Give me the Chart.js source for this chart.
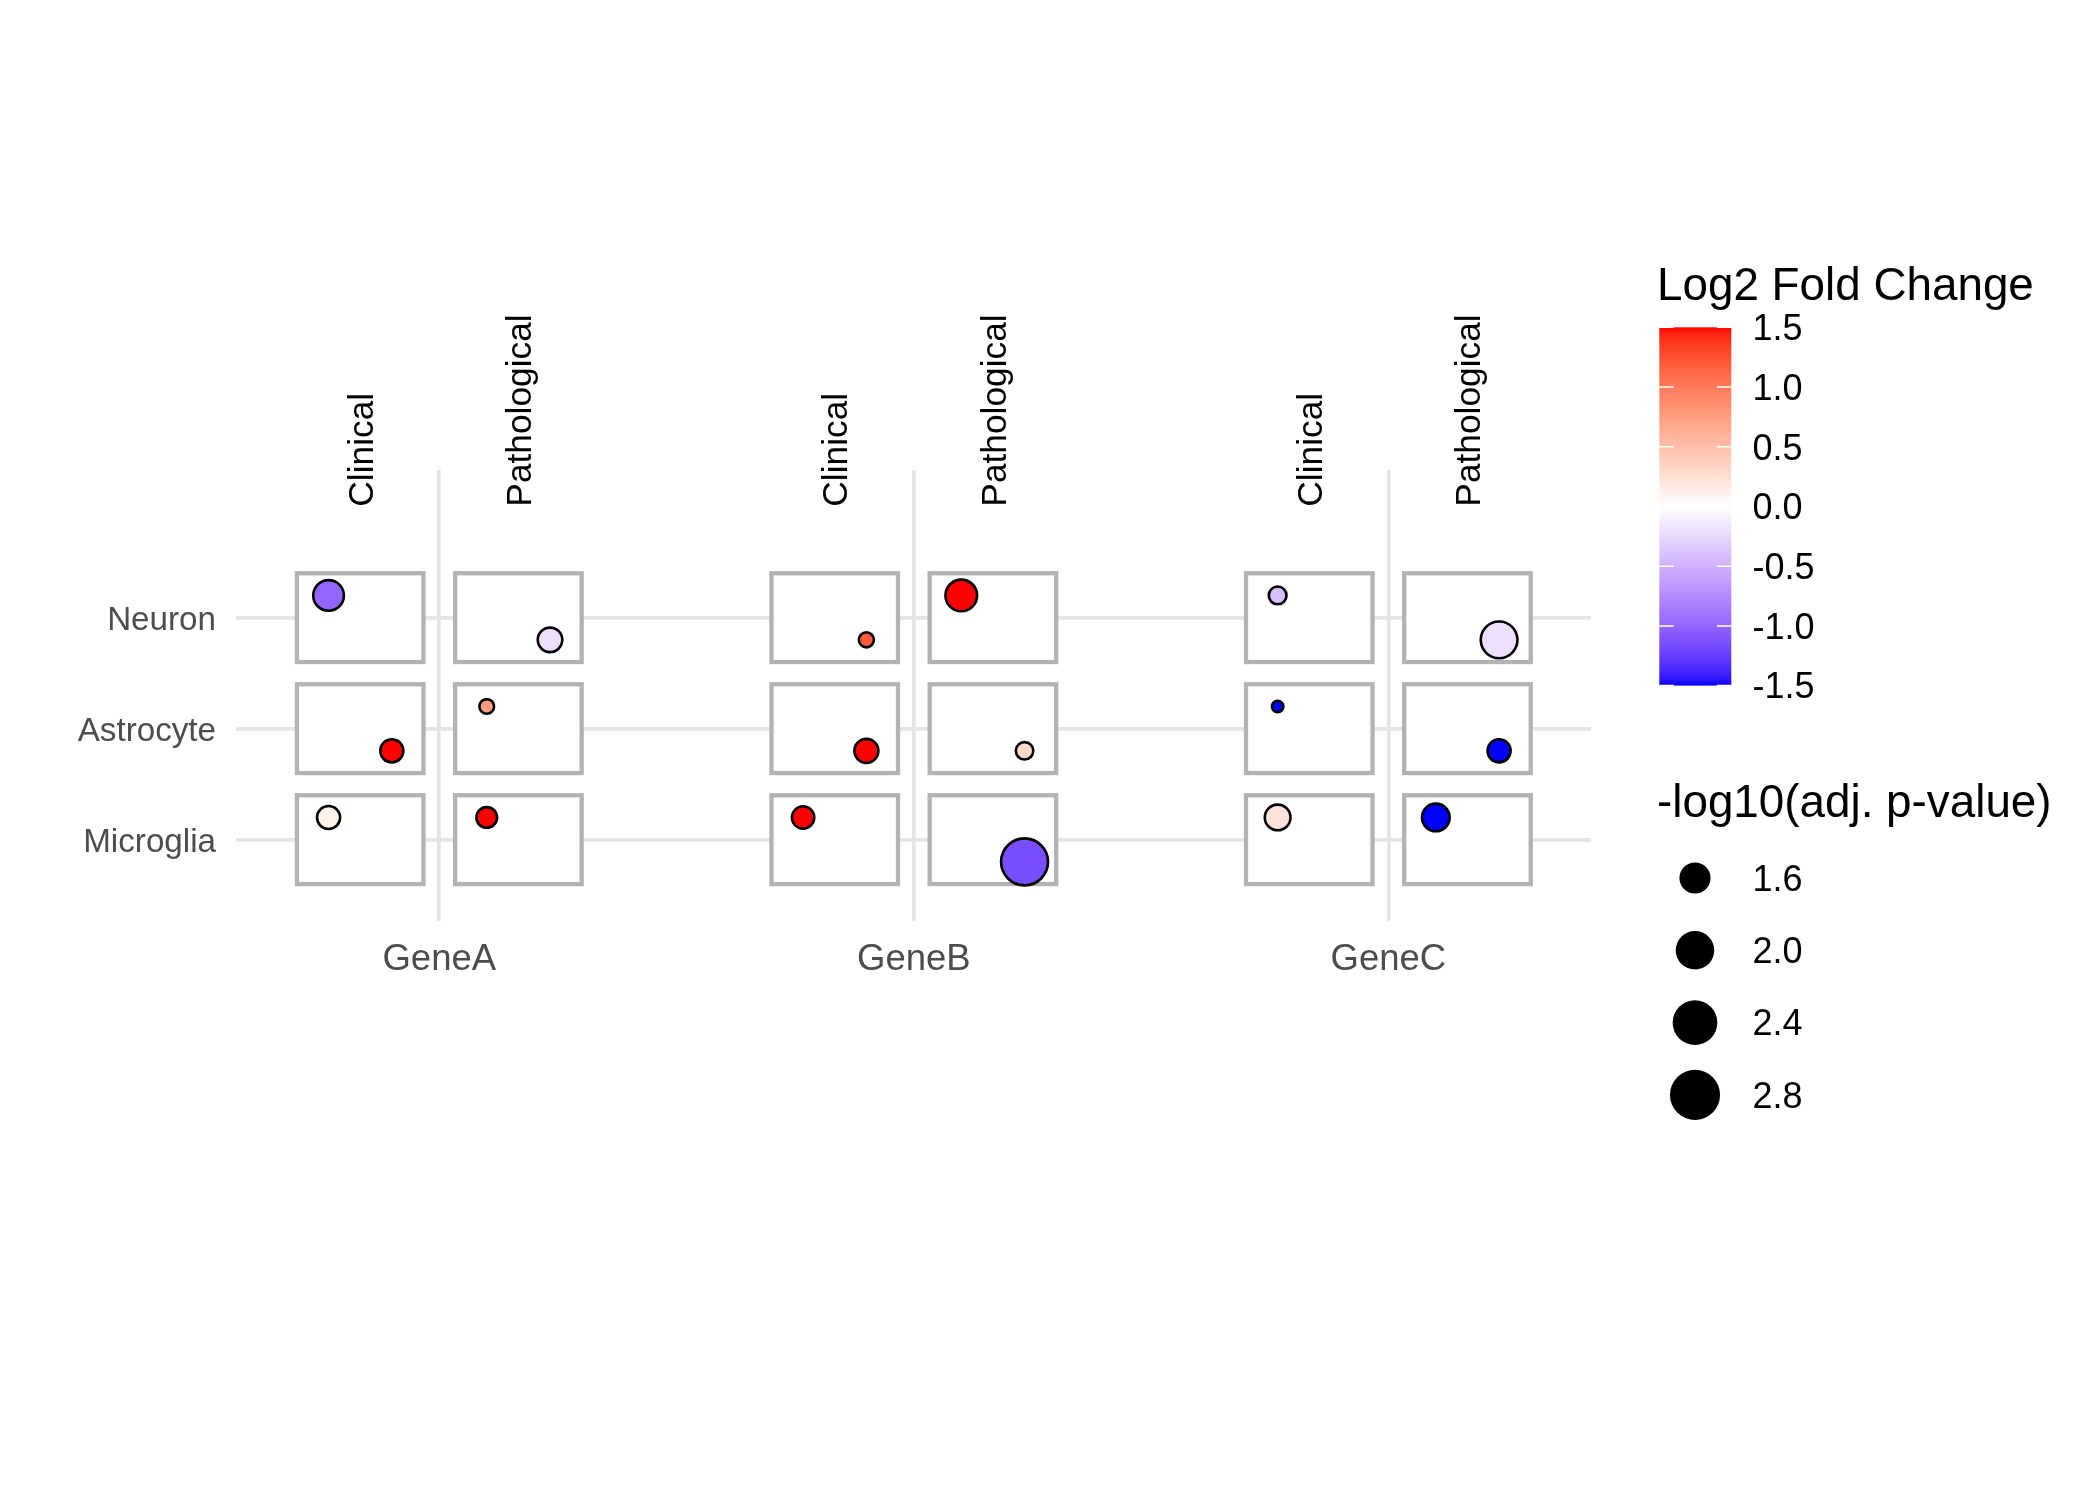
<!DOCTYPE html>
<html><head><meta charset="utf-8">
<script src="https://cdn.jsdelivr.net/npm/chart.js@4.4.1/dist/chart.umd.min.js"></script>
<style>html,body{margin:0;padding:0;background:#fff;}#wrap{width:2100px;height:1500px;}</style>
</head><body><div id="wrap"><canvas id="c" width="2100" height="1500"></canvas></div>
<script>
// ---------- data ----------
const genes = ['GeneA', 'GeneB', 'GeneC'];
const conditions = ['Clinical', 'Pathological'];
const cellTypes = ['Neuron', 'Astrocyte', 'Microglia'];
// order: gene -> condition -> cell type (Neuron, Astrocyte, Microglia)
const log2FC = [
  -1.00, 1.50, 0.12,   // GeneA Clinical
  -0.20, 0.75, 1.50,   // GeneA Pathological
   1.20, 1.50, 1.50,   // GeneB Clinical
   1.50, 0.30, -1.15,  // GeneB Pathological
  -0.42, -1.50, 0.22,  // GeneC Clinical
  -0.20, -1.50, -1.50  // GeneC Pathological
];
const negLog10P = [
  1.71, 1.36, 1.36,
  1.42, 1.08, 1.27,
  1.09, 1.40, 1.33,
  1.76, 1.16, 2.76,
  1.17, 1.00, 1.47,
  2.05, 1.36, 1.56
];
// sub-group placement inside each cell box
const quadrant = [
  'TL', 'BR', 'TL',
  'BR', 'TL', 'TL',
  'BR', 'BR', 'TL',
  'TL', 'BR', 'BR',
  'TL', 'TL', 'TL',
  'BR', 'BR', 'TL'
];
const colorTicks = [1.5, 1.0, 0.5, 0.0, -0.5, -1.0, -1.5];
const colorTickLabels = ['1.5', '1.0', '0.5', '0.0', '-0.5', '-1.0', '-1.5'];
const sizeBreaks = [1.6, 2.0, 2.4, 2.8];
const sizeBreakLabels = ['1.6', '2.0', '2.4', '2.8'];

// ---------- colour scale (ggplot gradient2 in Lab) ----------
const FONT = '"Liberation Sans", Arial, Helvetica, sans-serif';
function toLin(c){c/=255;return c<=0.04045?c/12.92:Math.pow((c+0.055)/1.055,2.4);}
function toS(c){let v=c<=0.0031308?12.92*c:1.055*Math.pow(c,1/2.4)-0.055;return Math.round(Math.max(0,Math.min(1,v))*255);}
const Xn=0.95047,Yn=1.0,Zn=1.08883;
function f(t){return t>216/24389?Math.cbrt(t):(24389/27*t+16)/116;}
function finv(t){const t3=t*t*t;return t3>216/24389?t3:(116*t-16)/(24389/27);}
function rgb2lab(r,g,b){
  r=toLin(r);g=toLin(g);b=toLin(b);
  const X=0.4124564*r+0.3575761*g+0.1804375*b, Y=0.2126729*r+0.7151522*g+0.0721750*b, Z=0.0193339*r+0.1191920*g+0.9503041*b;
  const fx=f(X/Xn),fy=f(Y/Yn),fz=f(Z/Zn);
  return [116*fy-16,500*(fx-fy),200*(fy-fz)];
}
function lab2rgb(L,a,bb){
  const fy=(L+16)/116,fx=fy+a/500,fz=fy-bb/200;
  const X=finv(fx)*Xn,Y=finv(fy)*Yn,Z=finv(fz)*Zn;
  const r=3.2404542*X-1.5371385*Y-0.4985314*Z, g=-0.9692660*X+1.8760108*Y+0.0415560*Z, b=0.0556434*X-0.2040259*Y+1.0572252*Z;
  return 'rgb('+toS(r)+','+toS(g)+','+toS(b)+')';
}
const LOW=rgb2lab(0,0,255), MID=rgb2lab(255,255,255), HIGH=rgb2lab(255,0,0);
const fcLimit = 1.5;
function fcColor(v){
  v=Math.max(-fcLimit,Math.min(fcLimit,v));
  const t=Math.abs(v)/fcLimit, end=v<0?LOW:HIGH;
  return lab2rgb(MID[0]+(end[0]-MID[0])*t, MID[1]+(end[1]-MID[1])*t, MID[2]+(end[2]-MID[2])*t);
}
// size scale: area linear in value
const sizeRef = {v0:1.6, d0:31.1, v1:2.8, d1:50.1};
function dotDiameter(v){
  const a0=sizeRef.d0*sizeRef.d0, a1=sizeRef.d1*sizeRef.d1;
  const a=a0+(a1-a0)*(v-sizeRef.v0)/(sizeRef.v1-sizeRef.v0);
  return Math.sqrt(Math.max(4,a));
}
const DOT_BORDER = 2.6;

// ---------- geometry in data units ----------
const colW = 1/3;          // column width (gene units)
const boxFrac = 0.8;       // box size relative to column / row
const nudge = 0.2;         // dot offset inside box
const rowVal = k => cellTypes.length - k;
const colX = (gi, ci) => gi + 1 + (ci - 0.5) * colW;

const points = [], fills = [];
genes.forEach((g, gi) => conditions.forEach((c, ci) => cellTypes.forEach((ct, ki) => {
  const i = gi*conditions.length*cellTypes.length + ci*cellTypes.length + ki;
  const q = quadrant[i];
  const dx = (q === 'TL' ? -1 : 1) * nudge * colW;
  const dy = (q === 'TL' ? 1 : -1) * nudge;
  points.push({x: colX(gi, ci) + dx, y: rowVal(ki) + dy, r: (dotDiameter(negLog10P[i]) - DOT_BORDER)/2});
  fills.push(fcColor(log2FC[i]));
})));

const boxPlugin = {
  id: 'boxes',
  beforeDatasetsDraw(chart) {
    const {ctx, scales: {x, y}} = chart;
    ctx.save();
    ctx.lineWidth = 4.3; ctx.strokeStyle = '#b3b3b3'; ctx.fillStyle = '#ffffff';
    genes.forEach((g, gi) => conditions.forEach((c, ci) => cellTypes.forEach((ct, ki) => {
      const cx = colX(gi, ci), cy = rowVal(ki);
      const x0 = x.getPixelForValue(cx - boxFrac*colW/2), x1 = x.getPixelForValue(cx + boxFrac*colW/2);
      const y0 = y.getPixelForValue(cy + boxFrac/2), y1 = y.getPixelForValue(cy - boxFrac/2);
      ctx.fillRect(x0, y0, x1-x0, y1-y0);
      ctx.strokeRect(x0, y0, x1-x0, y1-y0);
    })));
    ctx.restore();
  },
  afterDraw(chart) {
    const {ctx, scales: {x, y}} = chart;
    ctx.save();
    // condition labels
    const fs = 35.3;
    ctx.font = fs + 'px ' + FONT; ctx.fillStyle = '#000';
    ctx.textAlign = 'left'; ctx.textBaseline = 'alphabetic';
    genes.forEach((g, gi) => conditions.forEach((c, ci) => {
      const px = x.getPixelForValue(colX(gi, ci)), py = y.getPixelForValue(cellTypes.length + 1);
      ctx.save(); ctx.translate(px, py); ctx.rotate(-Math.PI/2);
      ctx.fillText(c, 0, 0.716*fs/2); ctx.restore();
    }));
    // ---- colour legend ----
    const lx = 1657;
    ctx.font = '45.8px ' + FONT; ctx.fillStyle = '#000';
    ctx.fillText('Log2 Fold Change', lx, 299.5);
    const bx0 = 1659.3, bx1 = 1731.3, byTop = 327.3, byBot = 685.6;
    const grad = ctx.createLinearGradient(0, byBot, 0, byTop);
    for (let s = 0; s <= 60; s++) { const v = -fcLimit + 2*fcLimit*s/60; grad.addColorStop(s/60, fcColor(v)); }
    ctx.fillStyle = grad; ctx.fillRect(bx0, byTop, bx1-bx0, byBot-byTop);
    const vy = v => byBot - (v + fcLimit)/(2*fcLimit)*(byBot-byTop);
    ctx.strokeStyle = '#ffffff'; ctx.lineWidth = 1.5;
    const tl = (bx1-bx0)/5;
    colorTicks.forEach(v => {
      const yy = vy(v);
      ctx.beginPath(); ctx.moveTo(bx0, yy); ctx.lineTo(bx0+tl, yy); ctx.moveTo(bx1-tl, yy); ctx.lineTo(bx1, yy); ctx.stroke();
    });
    ctx.font = '36px ' + FONT; ctx.fillStyle = '#000';
    colorTicks.forEach((v, i) => ctx.fillText(colorTickLabels[i], 1752.6, vy(v) + 0.716*36/2));
    // ---- size legend ----
    ctx.font = '45.8px ' + FONT;
    ctx.fillText('-log10(adj. p-value)', lx, 817);
    const sy0 = 878, sdy = 72.3, scx = 1695;
    sizeBreaks.forEach((v, i) => {
      const yy = sy0 + i*sdy;
      ctx.beginPath(); ctx.arc(scx, yy, dotDiameter(v)/2, 0, Math.PI*2); ctx.fillStyle = '#000'; ctx.fill();
      ctx.font = '36px ' + FONT;
      ctx.fillText(sizeBreakLabels[i], 1752.6, yy + 0.716*36/2);
    });
    ctx.restore();
  }
};

new Chart(document.getElementById('c'), {
  type: 'bubble',
  data: { datasets: [{
    data: points,
    backgroundColor: ctx => fills[ctx.dataIndex],
    borderColor: '#000000',
    borderWidth: DOT_BORDER,
    hoverRadius: 0, hoverBorderWidth: DOT_BORDER,
    clip: false
  }]},
  options: {
    responsive: false, animation: false, devicePixelRatio: 1,
    layout: { padding: { top: 470, right: 509, bottom: 0, left: 0 } },
    plugins: { legend: { display: false }, tooltip: { enabled: false } },
    events: [],
    scales: {
      x: {
        type: 'linear', min: 0.5716, max: 3.427,
        afterBuildTicks: s => { s.ticks = genes.map((g, i) => ({ value: i + 1 })); },
        afterFit: s => { s.height = 1500 - 920.7; },
        ticks: { callback: v => genes[Math.round(v) - 1], font: { family: FONT, size: 36.5 }, color: '#4d4d4d', padding: 17, maxRotation: 0, autoSkip: false },
        grid: { color: '#e4e4e4', lineWidth: 3.7, drawTicks: false },
        border: { display: false }
      },
      y: {
        type: 'linear', min: 0.27, max: 4.33,
        afterBuildTicks: s => { s.ticks = cellTypes.map((c, k) => ({ value: rowVal(k) })); },
        afterFit: s => { s.width = 236; },
        ticks: { callback: v => cellTypes[cellTypes.length - Math.round(v)], font: { family: FONT, size: 33.2 }, color: '#4d4d4d', padding: 20, labelOffset: 3, autoSkip: false },
        grid: { color: '#e4e4e4', lineWidth: 3.7, drawTicks: false },
        border: { display: false }
      }
    }
  },
  plugins: [boxPlugin]
});
</script></body></html>
